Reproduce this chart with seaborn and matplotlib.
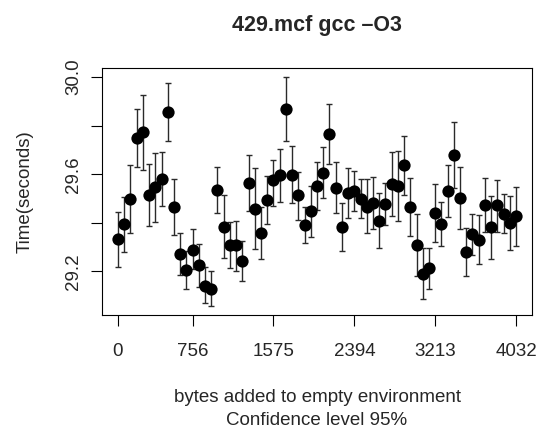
import numpy as np
import pandas as pd
import matplotlib
matplotlib.use('Agg')
import matplotlib.pyplot as plt
import seaborn as sns

# bytes added to the environment, 0..4032 in steps of 63
bytes_added = list(range(0, 4033, 63))

mean_time = [29.332, 29.395, 29.498, 29.749, 29.772, 29.516, 29.547, 29.580, 29.857, 29.465,
             29.273, 29.205, 29.289, 29.225, 29.141, 29.129, 29.536, 29.384, 29.307, 29.307,
             29.243, 29.565, 29.458, 29.358, 29.494, 29.575, 29.595, 29.867, 29.598, 29.513,
             29.391, 29.447, 29.551, 29.606, 29.764, 29.545, 29.384, 29.521, 29.530, 29.500,
             29.467, 29.480, 29.409, 29.477, 29.558, 29.553, 29.637, 29.465, 29.309, 29.189,
             29.215, 29.440, 29.395, 29.531, 29.679, 29.503, 29.281, 29.354, 29.328, 29.472,
             29.383, 29.472, 29.437, 29.398, 29.428]

ci_upper = [29.444, 29.507, 29.638, 29.868, 29.927, 29.643, 29.688, 29.693, 29.977, 29.579,
            29.359, 29.285, 29.373, 29.314, 29.217, 29.203, 29.631, 29.516, 29.403, 29.409,
            29.325, 29.680, 29.624, 29.466, 29.594, 29.660, 29.705, 29.999, 29.716, 29.610,
            29.465, 29.551, 29.651, 29.713, 29.888, 29.651, 29.483, 29.624, 29.613, 29.579,
            29.579, 29.588, 29.523, 29.565, 29.690, 29.697, 29.758, 29.583, 29.435, 29.295,
            29.298, 29.561, 29.484, 29.639, 29.816, 29.630, 29.380, 29.437, 29.431, 29.583,
            29.512, 29.576, 29.517, 29.512, 29.549]

ci_lower = [29.219, 29.281, 29.359, 29.631, 29.617, 29.388, 29.403, 29.468, 29.737, 29.351,
            29.184, 29.126, 29.209, 29.137, 29.069, 29.058, 29.440, 29.254, 29.213, 29.203,
            29.162, 29.450, 29.291, 29.252, 29.394, 29.470, 29.484, 29.737, 29.480, 29.412,
            29.317, 29.342, 29.451, 29.502, 29.643, 29.439, 29.284, 29.419, 29.447, 29.421,
            29.358, 29.373, 29.296, 29.390, 29.428, 29.407, 29.513, 29.347, 29.181, 29.085,
            29.129, 29.321, 29.305, 29.424, 29.543, 29.374, 29.182, 29.267, 29.229, 29.363,
            29.251, 29.363, 29.359, 29.288, 29.306]

x_ticks = [0, 756, 1575, 2394, 3213, 4032]
y_ticks = [29.2, 29.4, 29.6, 29.8, 30.0]
y_ticklabels = ['29.2', '', '29.6', '', '30.0']

df = pd.DataFrame({'bytes': bytes_added, 'time': mean_time,
                   'lo': ci_lower, 'hi': ci_upper})

sns.set_style('ticks')
plt.rcParams['font.family'] = ['Liberation Sans', 'DejaVu Sans']

W, H = 544, 430
fig = plt.figure(figsize=(W / 100, H / 100), dpi=100)
ax = fig.add_axes([102 / W, 1 - 315 / H, 430 / W, 247 / H])

# confidence intervals
ax.errorbar(df['bytes'], df['time'],
            yerr=[df['time'] - df['lo'], df['hi'] - df['time']],
            fmt='none', ecolor='#2a2a2a', elinewidth=1, capsize=2.5, capthick=1, zorder=1)
sns.scatterplot(data=df, x='bytes', y='time', ax=ax, color='black', s=78,
                edgecolor='black', linewidth=0, zorder=2)

ax.set_xlim(-162, 4194)
ax.set_ylim(29.021, 30.037)

ax.set_xticks(x_ticks)
ax.set_xticklabels([str(t) for t in x_ticks], fontsize=13.5)
ax.set_yticks(y_ticks)
ax.set_yticklabels(y_ticklabels, fontsize=13.5, rotation=90, va='center')
ax.tick_params(axis='both', length=8, width=0.8, color='black')
ax.tick_params(axis='x', pad=12.5)
ax.tick_params(axis='y', pad=6.5)

for s in ax.spines.values():
    s.set_visible(True)
    s.set_color('black')
    s.set_linewidth(0.8)

ax.set_xlabel('')
ax.set_ylabel('')

fig.text(317 / W, 1 - 31 / H, '429.mcf gcc \u2013O3', ha='center', va='baseline',
         fontsize=15.5, fontweight='bold')
fig.text(25 / W, 1 - 191.5 / H, 'Time(seconds)', rotation=90,
         ha='center', va='center', fontsize=13.5)
fig.text(317 / W, 1 - 402 / H, 'bytes added to empty environment',
         ha='center', va='baseline', fontsize=13.5)
fig.text(317 / W, 1 - 425 / H, 'Confidence level 95%',
         ha='center', va='baseline', fontsize=13.5)

fig.savefig('out.png', dpi=100, facecolor='white')
